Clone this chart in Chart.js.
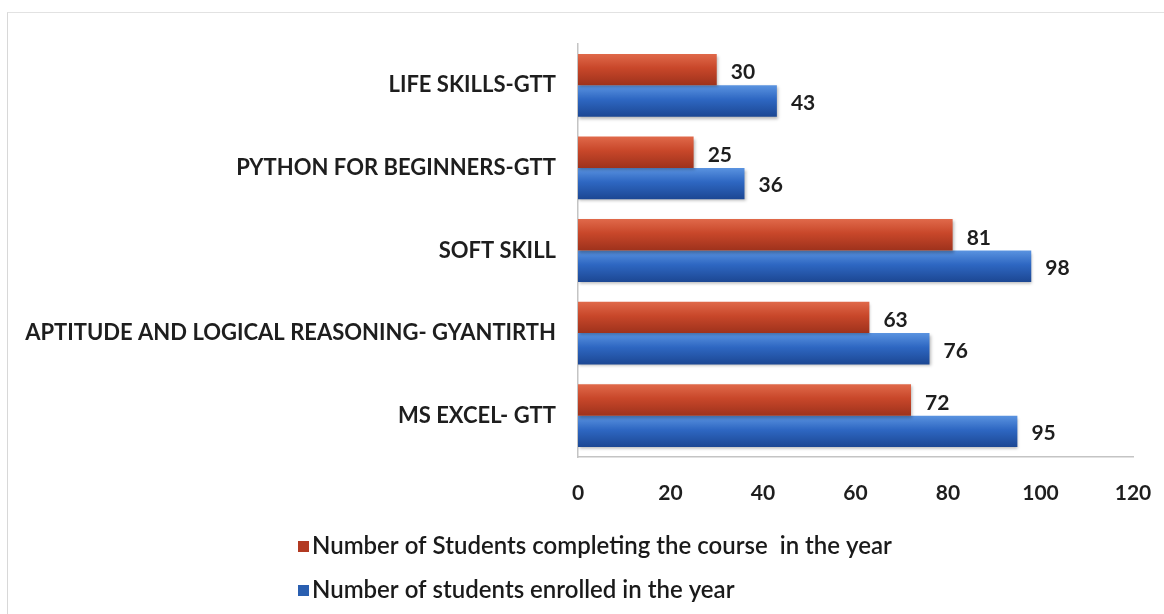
<!DOCTYPE html>
<html lang="en">
<head>
    <meta charset="UTF-8">
    <title>Students completing vs enrolled</title>
    <script src="https://cdn.jsdelivr.net/npm/chart.js"></script>
    <style>
        html, body {
            margin: 0;
            padding: 0;
            background: #fff;
        }
        .frame {
            position: absolute;
            left: 7px;
            top: 12px;
            right: 0;
            bottom: 0;
            border-left: 1px solid #d8d8d8;
            border-top: 1px solid #e2e2e2;
        }
        .wrap {
            position: absolute;
            left: 0;
            top: 0;
            width: 1164px;
            height: 614px;
        }
    </style>
</head>
<body>
    <div class="frame"></div>
    <div class="wrap"><canvas id="courseChart" width="1164" height="614"></canvas></div>

    <script>
        const courses = [
            'LIFE SKILLS-GTT',
            'PYTHON FOR BEGINNERS-GTT',
            'SOFT SKILL',
            'APTITUDE AND LOGICAL REASONING- GYANTIRTH',
            'MS EXCEL- GTT'
        ];
        const completed = [30, 25, 81, 63, 72];
        const enrolled = [43, 36, 98, 76, 95];
        const xTicks = [0, 20, 40, 60, 80, 100, 120];

        const seriesNames = [
            'Number of Students completing the course  in the year',
            'Number of students enrolled in the year'
        ];

        const FONT = "Lato, 'Open Sans', sans-serif";
        const CAT_PCT = 0.76;

        // vertical gradient per bar, like the shaded office bars
        function barGradient(stops) {
            return function (ctx) {
                const chart = ctx.chart;
                const y = chart.scales.y;
                if (!y || ctx.dataIndex === undefined) return stops[1];
                const band = (y.bottom - y.top) / courses.length;
                const h = band * CAT_PCT / 2;
                const center = y.getPixelForValue(ctx.dataIndex);
                const top = ctx.datasetIndex === 0 ? center - h : center;
                if (!isFinite(top) || !isFinite(h) || h <= 0) return stops[1];
                const g = chart.ctx.createLinearGradient(0, top, 0, top + h);
                g.addColorStop(0, stops[0]);
                g.addColorStop(0.45, stops[1]);
                g.addColorStop(1, stops[2]);
                return g;
            };
        }

        const valueLabels = {
            id: 'valueLabels',
            afterDatasetsDraw(chart) {
                const ctx = chart.ctx;
                ctx.save();
                ctx.font = 'bold 21px ' + FONT;
                ctx.fillStyle = '#1e1e1e';
                ctx.textBaseline = 'middle';
                chart.data.datasets.forEach((ds, di) => {
                    chart.getDatasetMeta(di).data.forEach((bar, i) => {
                        ctx.fillText(ds.data[i], bar.x + 14, bar.y + (di === 0 ? 3 : 2));
                    });
                });
                ctx.restore();
            }
        };

        const barShadow = {
            id: 'barShadow',
            beforeDatasetsDraw(chart) {
                const ctx = chart.ctx;
                ctx.save();
                ctx.shadowColor = 'rgba(0,0,0,0.28)';
                ctx.shadowBlur = 3;
                ctx.shadowOffsetX = 1;
                ctx.shadowOffsetY = 2;
            },
            afterDatasetsDraw(chart) {
                chart.ctx.restore();
            }
        };

        const stackedLegend = {
            id: 'stackedLegend',
            afterDraw(chart) {
                const ctx = chart.ctx;
                const swatch = ['#b23a22', '#2a5fb0'];
                const left = 298;
                const rows = [546, 590];
                ctx.save();
                ctx.font = '600 24px ' + FONT;
                ctx.textBaseline = 'middle';
                chart.data.datasets.forEach((ds, i) => {
                    ctx.fillStyle = swatch[i];
                    ctx.fillRect(left, rows[i] - 5, 11, 11);
                    ctx.fillStyle = '#1a1a1a';
                    ctx.fillText(ds.label, left + 14, rows[i]);
                });
                ctx.restore();
            }
        };

        new Chart(document.getElementById('courseChart'), {
            type: 'bar',
            data: {
                labels: courses,
                datasets: [{
                    label: seriesNames[0],
                    data: completed,
                    backgroundColor: barGradient(['#e0694a', '#c8472a', '#9e321c']),
                    borderWidth: 0
                }, {
                    label: seriesNames[1],
                    data: enrolled,
                    backgroundColor: barGradient(['#5a93e0', '#2e67c2', '#1c4793']),
                    borderWidth: 0
                }]
            },
            options: {
                indexAxis: 'y',
                responsive: false,
                animation: false,
                categoryPercentage: CAT_PCT,
                barPercentage: 1,
                layout: {
                    padding: { top: 44, right: 31, bottom: 0, left: 0 }
                },
                plugins: {
                    legend: { display: false },
                    tooltip: { enabled: false }
                },
                scales: {
                    x: {
                        min: 0,
                        max: 120,
                        afterBuildTicks(scale) {
                            scale.ticks = xTicks.map(v => ({ value: v }));
                        },
                        afterFit(scale) {
                            scale.height = 157;
                            scale.paddingLeft = 0;
                            scale.paddingRight = 0;
                        },
                        grid: { display: false, drawTicks: false },
                        border: { display: true, color: '#c4c4c4', width: 1.5 },
                        ticks: {
                            padding: 24,
                            color: '#1e1e1e',
                            font: { family: FONT, size: 21, weight: 'bold' }
                        }
                    },
                    y: {
                        afterFit(scale) {
                            scale.width = 578;
                        },
                        grid: { display: false, drawTicks: false },
                        border: { display: true, color: '#c4c4c4', width: 1.5 },
                        ticks: {
                            padding: 22,
                            color: '#1e1e1e',
                            font: { family: FONT, size: 22, weight: 'bold' }
                        }
                    }
                }
            },
            plugins: [barShadow, valueLabels, stackedLegend]
        });
    </script>
</body>
</html>
